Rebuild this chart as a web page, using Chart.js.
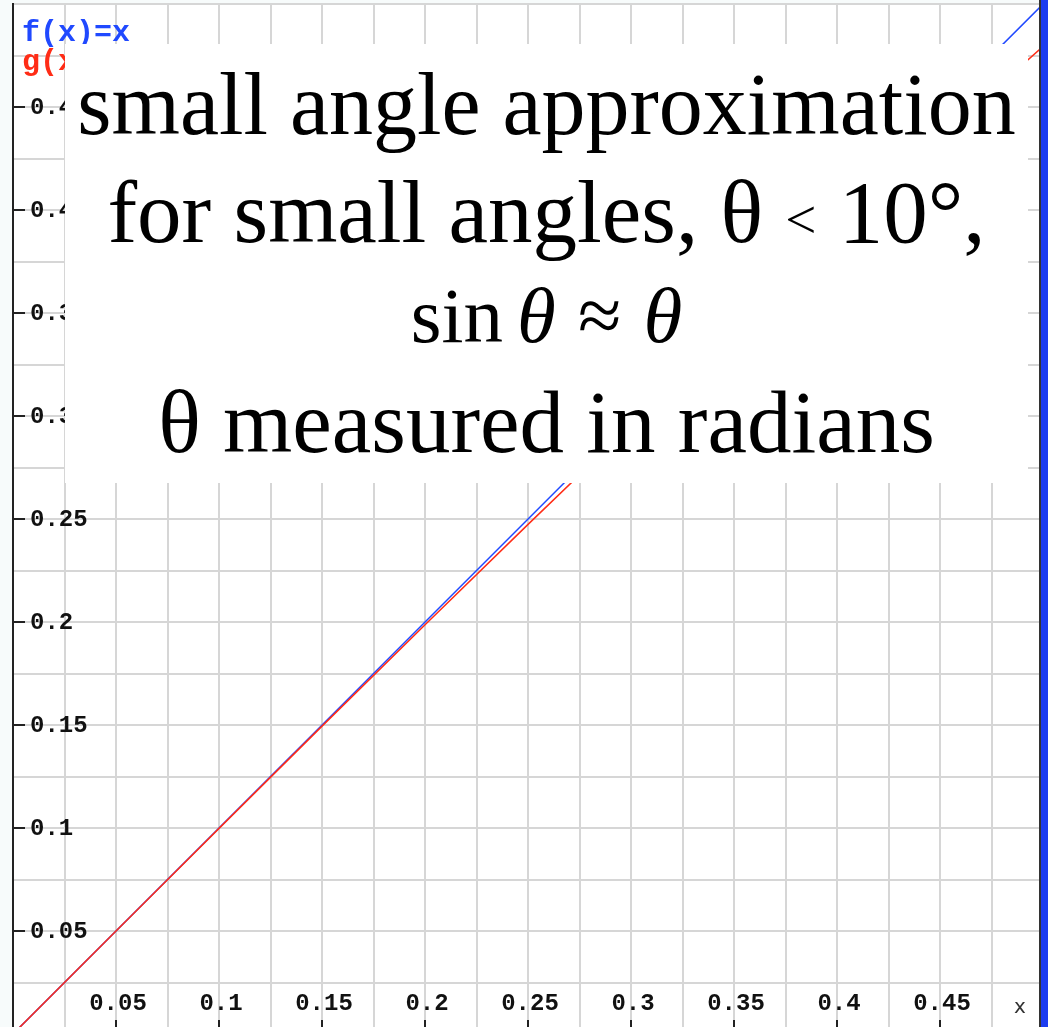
<!DOCTYPE html>
<html>
<head>
<meta charset="utf-8">
<script src="https://cdn.jsdelivr.net/npm/chart.js@4"></script>
<style>
  html, body { margin: 0; padding: 0; background: #f7fbfb; overflow: hidden; }
  #wrap { position: relative; width: 1048px; height: 1027px; }
  #note { position: absolute; left: 65px; top: 44px; width: 963px; height: 439px; background: #fff; }
  .ln { position: absolute; left: 65px; width: 963px; text-align: center; line-height: 1;
        font-family: "Liberation Serif", "DejaVu Serif", serif; color: #000; white-space: nowrap; }
  .ln i { font-style: italic; }
  .lt { font-size: .62em; vertical-align: .08em; }
</style>
</head>
<body>
<div id="wrap">
  <canvas id="graph" width="1048" height="1027"></canvas>
  <div id="note"></div>
  <div class="ln" style="top:61px;font-size:88px">small angle approximation</div>
  <div class="ln" style="top:168px;font-size:89px">for small angles, θ <span class="lt">&lt;</span> 10°,</div>
  <div class="ln" style="top:276px;font-size:79px">sin<i style="margin-left:.18em">θ</i><span style="margin:0 .28em">≈</span><i>θ</i></div>
  <div class="ln" style="top:378px;font-size:89px">θ measured in radians</div>
</div>
<script>
// sample points along both curves
var xs = [0, 0.05, 0.1, 0.15, 0.2, 0.25, 0.3, 0.35, 0.4, 0.45, 0.5];
var fx = [0, 0.05, 0.1, 0.15, 0.2, 0.25, 0.3, 0.35, 0.4, 0.45, 0.5];
var gx = [0, 0.04998, 0.09983, 0.14944, 0.19867, 0.24740, 0.29552, 0.34290, 0.38942, 0.43497, 0.47943];

// grid every 0.025, labels every 0.05
var gridX = [0, 0.025, 0.05, 0.075, 0.1, 0.125, 0.15, 0.175, 0.2, 0.225, 0.25, 0.275, 0.3, 0.325, 0.35, 0.375, 0.4, 0.425, 0.45, 0.475];
var gridY = [0.025, 0.05, 0.075, 0.1, 0.125, 0.15, 0.175, 0.2, 0.225, 0.25, 0.275, 0.3, 0.325, 0.35, 0.375, 0.4, 0.425, 0.45, 0.475, 0.5];
var tickVals = [0.05, 0.1, 0.15, 0.2, 0.25, 0.3, 0.35, 0.4, 0.45];
var tickLabels = ['0.05', '0.1', '0.15', '0.2', '0.25', '0.3', '0.35', '0.4', '0.45'];

var legendNames = ['f(x)=x', 'g(x)=sin(x)'];
var blue = '#2049ff', red = '#ff2c16';

function pts(ys) {
    return xs.map(function (x, i) { return {x: x, y: ys[i]}; });
}

var frame = {
    id: 'frame',
    beforeDraw: function (chart) {
        var c = chart.ctx, a = chart.chartArea;
        c.save();
        c.fillStyle = '#f7fbfb';
        c.fillRect(0, 0, chart.width, chart.height);
        c.fillStyle = '#ffffff';
        c.fillRect(a.left, a.top, a.right - a.left, a.bottom - a.top);
        c.restore();
    },
    afterDatasetsDraw: function (chart) {
        var c = chart.ctx, a = chart.chartArea;
        var sx = chart.scales.x, sy = chart.scales.y;
        c.save();
        c.strokeStyle = '#222';
        c.lineWidth = 2;
        c.fillStyle = '#111';
        c.font = 'bold 24px "Liberation Mono", monospace';

        // y axis ticks + labels
        c.textAlign = 'left';
        c.textBaseline = 'middle';
        tickVals.forEach(function (v, i) {
            var py = Math.round(sy.getPixelForValue(v));
            c.beginPath();
            c.moveTo(a.left, py);
            c.lineTo(a.left + 12, py);
            c.stroke();
            c.fillText(tickLabels[i], a.left + 17, py + 1);
        });

        // x axis ticks + labels
        c.textAlign = 'center';
        tickVals.forEach(function (v, i) {
            var px = Math.round(sx.getPixelForValue(v));
            c.beginPath();
            c.moveTo(px, 1020);
            c.lineTo(px, a.bottom);
            c.stroke();
            c.fillText(tickLabels[i], px + 2, 1004);
        });

        c.font = '20px "DejaVu Sans", sans-serif';
        c.fillStyle = '#333';
        c.fillText('x', 1020, 1008);

        // legend
        c.textAlign = 'left';
        c.textBaseline = 'alphabetic';
        c.font = 'bold 30px "Liberation Mono", monospace';
        c.fillStyle = blue;
        c.fillText(legendNames[0], 22, 41);
        c.fillStyle = red;
        c.fillText(legendNames[1], 22, 70);

        // right window edge
        c.fillStyle = '#333';
        c.fillRect(a.right, 0, 2, chart.height);
        c.fillStyle = '#1c3cf0';
        c.fillRect(a.right + 2, 0, chart.width - a.right - 2, chart.height);
        c.restore();
    }
};

new Chart(document.getElementById('graph'), {
    type: 'line',
    data: {
        datasets: [{
            label: legendNames[1],
            data: pts(gx),
            borderColor: red,
            borderWidth: 1.5,
            pointRadius: 0,
            fill: false
        }, {
            label: legendNames[0],
            data: pts(fx),
            borderColor: blue,
            borderWidth: 1.5,
            pointRadius: 0,
            fill: false
        }]
    },
    options: {
        responsive: false,
        animation: false,
        devicePixelRatio: 1,
        layout: { padding: { left: 13, right: 9, top: 4, bottom: 0 } },
        plugins: { legend: { display: false }, tooltip: { enabled: false } },
        scales: {
            x: {
                type: 'linear',
                min: 0,
                max: 0.498,
                afterBuildTicks: function (s) { s.ticks = gridX.map(function (v) { return {value: v}; }); },
                ticks: { display: false },
                grid: { color: '#d6d6d6', lineWidth: 2, drawTicks: false },
                border: { display: false }
            },
            y: {
                type: 'linear',
                min: 0.0034,
                max: 0.5,
                afterBuildTicks: function (s) { s.ticks = gridY.map(function (v) { return {value: v}; }); },
                ticks: { display: false },
                grid: { color: '#d6d6d6', lineWidth: 2, drawTicks: false },
                border: { display: true, color: '#222', width: 2 }
            }
        }
    },
    plugins: [frame]
});
</script>
</body>
</html>
